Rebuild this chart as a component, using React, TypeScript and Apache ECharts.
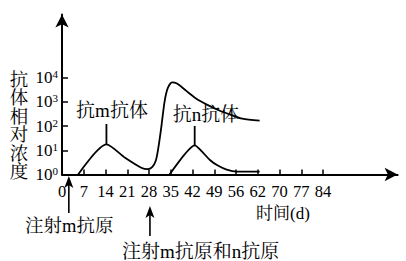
import React, { useEffect, useRef } from "react";
import * as echarts from "echarts";

// ---- data ----
const xTickValues = [0, 7, 14, 21, 28, 35, 42, 49, 56, 63, 70, 77, 84];
const xTickLabels = ["0", "7", "14", "21", "28", "35", "42", "49", "56", "62", "70", "77", "84"];
const yTickExponents = [0, 1, 2, 3, 4];

// log10 of relative antibody concentration vs day
const mAntibody: [number, number][] = [
  [5.2, 0], [14.3, 1.24], [20.3, 0.69], [25.5, 0.28], [27.6, 0.22], [29, 0.3],
  [30.2, 0.58], [31, 1.1], [32, 2.0], [33, 3.0], [34, 3.55], [35.4, 3.8],
  [37, 3.75], [40, 3.45], [43, 3.15], [47.6, 2.82], [51, 2.62], [54, 2.48],
  [58, 2.3], [63.6, 2.22],
];
const nAntibody: [number, number][] = [
  [34.6, 0], [39.6, 0.85], [42.7, 1.2], [45, 0.95], [47.6, 0.6], [50, 0.38],
  [53, 0.2], [56.3, 0.12], [63.6, 0.12],
];
const mPointer: [number, number][] = [[14.3, 1.24], [14.3, 2.08]];
const nPointer: [number, number][] = [[42.7, 1.2], [42.7, 2.0]];

const curveLabels = ["抗m抗体", "抗n抗体"];
const injectionDays = [2.2, 28.3];
const injectionLabels = ["注射m抗原", "注射m抗原和n抗原"];
const yAxisName = "抗体相对浓度";
const xAxisName = "时间(d)";

const FONT = "'Liberation Serif', 'Noto Serif CJK SC', 'Noto Sans CJK SC', serif";
const BLACK = "#000";

export default function App() {
  const ref = useRef<HTMLDivElement>(null);
  useEffect(() => {
    if (!ref.current) return;
    const chart = echarts.init(ref.current, undefined, { renderer: "svg" });
    const lineSeries = (data: [number, number][], smooth: number | boolean) => ({
      type: "line",
      data,
      smooth,
      showSymbol: false,
      lineStyle: { color: BLACK, width: 1.8 },
      itemStyle: { color: BLACK },
      silent: true,
    });
    chart.setOption({
      animation: false,
      grid: { left: 62, top: 14.5, right: 8.4, bottom: 86.5 },
      xAxis: {
        type: "value",
        min: 0,
        max: 108,
        interval: 7,
        splitLine: { show: false },
        axisLine: {
          onZero: false,
          lineStyle: { color: BLACK, width: 2 },
          symbol: ["none", "arrow"],
          symbolSize: [10, 13],
        },
        axisTick: { show: true, inside: true, length: 5, lineStyle: { color: BLACK, width: 1.5 }, customValues: xTickValues },
        axisLabel: {
          customValues: xTickValues,
          margin: 9,
          color: BLACK,
          fontSize: 16.5,
          fontFamily: FONT,
          formatter: (v: number) => {
            const i = xTickValues.indexOf(v);
            return i >= 0 ? xTickLabels[i] : "";
          },
        },
      },
      yAxis: {
        type: "value",
        min: 0,
        max: 6.6,
        interval: 1,
        splitLine: { show: false },
        axisLine: {
          onZero: false,
          lineStyle: { color: BLACK, width: 2 },
          symbol: ["none", "arrow"],
          symbolSize: [10, 13],
        },
        axisTick: { show: true, inside: true, length: 6, lineStyle: { color: BLACK, width: 1.5 }, customValues: yTickExponents },
        axisLabel: {
          customValues: yTickExponents,
          margin: 4,
          color: BLACK,
          formatter: (v: number) => (yTickExponents.includes(v) ? `{b|10}{s|${v}}` : ""),
          rich: {
            b: { fontSize: 17, fontFamily: FONT, color: BLACK, lineHeight: 18 },
            s: { fontSize: 11, fontFamily: FONT, color: BLACK, verticalAlign: "top", lineHeight: 18, padding: [0, 0, 7, 0] },
          },
        },
      },
      series: [
        lineSeries(mAntibody, 0.25),
        lineSeries(nAntibody, 0.25),
        lineSeries(mPointer, false),
        lineSeries(nPointer, false),
      ],
    });

    const px = (d: number, v: number) => chart.convertToPixel({ gridIndex: 0 }, [d, v]) as number[];
    const a1 = px(injectionDays[0], 0)[0];
    const a2 = px(injectionDays[1], 0)[0];
    const arrow = (x: number, tip: number, bottom: number) => [
      { type: "line", shape: { x1: x, y1: tip + 8, x2: x, y2: bottom }, style: { stroke: BLACK, lineWidth: 1.6 } },
      {
        type: "polygon",
        shape: { points: [[x, tip], [x - 4.5, tip + 12], [x, tip + 9], [x + 4.5, tip + 12]] },
        style: { fill: BLACK },
      },
    ];
    const text = (t: string, x: number, y: number, align: string, size = 17, extra: any = {}) => ({
      type: "text",
      x,
      y,
      style: { text: t, fill: BLACK, font: `${size}px ${FONT}`, align, verticalAlign: "middle", ...extra },
    });
    chart.setOption({
      graphic: [
        ...arrow(a1, 176, 213),
        ...arrow(a2, 206, 236),
        text(curveLabels[0], 112, 110, "center", 19),
        text(curveLabels[1], 206, 114, "center", 19),
        text(yAxisName.split("").join("\n"), 19, 126, "center", 18.5, { lineHeight: 18.5 }),
        text(xAxisName, 283, 213, "center"),
        text(injectionLabels[0], 25, 226, "left", 18.5),
        text(injectionLabels[1], 122, 251, "left", 19),
      ],
    });
    return () => chart.dispose();
  }, []);
  return <div ref={ref} style={{ width: 406, height: 261, position: "absolute", left: 0, top: 0 }} />;
}
